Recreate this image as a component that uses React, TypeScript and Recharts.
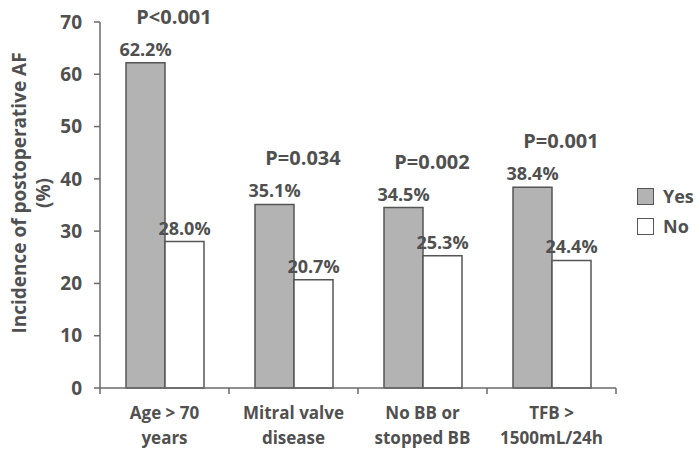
import React from 'react';
import { BarChart, Bar, XAxis, YAxis, LabelList } from 'recharts';

const categories = ['Age > 70|years', 'Mitral valve|disease', 'No BB or|stopped BB', 'TFB >|1500mL/24h'];
const yesValues = [62.2, 35.1, 34.5, 38.4];
const noValues = [28.0, 20.7, 25.3, 24.4];
const pLabels = ['P<0.001', 'P=0.034', 'P=0.002', 'P=0.001'];
const yTicks = [0, 10, 20, 30, 40, 50, 60, 70];
const legendItems = [
  { name: 'Yes', fill: '#b3b3b3' },
  { name: 'No', fill: '#ffffff' },
];

const data = categories.map((c, i) => ({ cat: c, yes: yesValues[i], no: noValues[i], p: pLabels[i] }));

const FONT = '"Open Sans", Lato, sans-serif';
const TXT = '#505050';
const AXIS = '#6a6a6a';

const W = 699;
const H = 459;
const M = { top: 22, right: 83, bottom: 41, left: 40 };
const Y_W = 60;
const bandW = (W - M.left - Y_W - M.right) / categories.length;

const XTick = (props: any) => {
  const { x, y, payload, index } = props;
  const half = payload && typeof payload.offset === 'number' && payload.offset > 0 ? payload.offset : bandW / 2;
  const lines = String(payload.value).split('|');
  const isLast = index === categories.length - 1;
  return (
    <g>
      <line x1={x - half} x2={x - half} y1={y - 8} y2={y - 2} stroke={AXIS} strokeWidth={1.5} />
      {isLast && <line x1={x + half} x2={x + half} y1={y - 8} y2={y - 2} stroke={AXIS} strokeWidth={1.5} />}
      <text x={x} y={y + 23} textAnchor="middle" fontFamily={FONT} fontWeight="bold" fontSize={17} fill={TXT}>
        {lines.map((l, i) => (
          <tspan key={i} x={x} dy={i === 0 ? 0 : 25}>{l}</tspan>
        ))}
      </text>
    </g>
  );
};

const PLabel = (props: any) => {
  const { x, y, width, value } = props;
  return (
    <text x={x + width + 9} y={y - 39} textAnchor="middle" fontFamily={FONT} fontWeight="bold" fontSize={20} fill={TXT}>
      {value}
    </text>
  );
};

const YLabel = (props: any) => {
  const vb = props.viewBox || {};
  const cy = vb.y + vb.height / 2;
  return (
    <text transform={`rotate(-90, 0, ${cy})`} x={12} y={cy} textAnchor="middle" fontFamily={FONT} fontWeight="bold" fontSize={19} fill={TXT}>
      <tspan x={12} y={cy + 26}>Incidence of postoperative AF</tspan>
      <tspan x={12} y={cy + 50}>(%)</tspan>
    </text>
  );
};

const valueStyle = { fontFamily: FONT, fontWeight: 'bold', fontSize: 18, fill: TXT };

export default function App() {
  return (
    <div style={{ position: 'absolute', left: 0, top: 0, width: W, height: H, background: '#fff' }}>
      <BarChart width={W} height={H} data={data} margin={M} barGap={0} barSize={39}>
        <XAxis dataKey="cat" tick={<XTick />} tickLine={false} axisLine={{ stroke: AXIS, strokeWidth: 1.5 }} interval={0} />
        <YAxis
          width={Y_W}
          domain={[0, 70]}
          ticks={yTicks}
          interval={0}
          tickSize={6}
          tickMargin={12}
          tickLine={{ stroke: AXIS, strokeWidth: 1.5 }}
          axisLine={{ stroke: AXIS, strokeWidth: 1.5 }}
          tick={{ fontFamily: FONT, fontWeight: 'bold', fontSize: 19, fill: TXT }}
          label={<YLabel />}
        />
        <Bar dataKey="yes" name="Yes" fill="#b3b3b3" stroke="#555" strokeWidth={1.5} isAnimationActive={false}>
          <LabelList dataKey="yes" position="top" offset={7} formatter={(v: any) => `${Number(v).toFixed(1)}%`} style={valueStyle} />
          <LabelList dataKey="p" content={<PLabel />} />
        </Bar>
        <Bar dataKey="no" name="No" fill="#ffffff" stroke="#555" strokeWidth={1.5} isAnimationActive={false}>
          <LabelList dataKey="no" position="top" offset={7} formatter={(v: any) => `${Number(v).toFixed(1)}%`} style={valueStyle} />
        </Bar>
      </BarChart>
      <div style={{ position: 'absolute', left: 637, top: 181, fontFamily: FONT, fontWeight: 'bold', fontSize: 18, color: TXT }}>
        {legendItems.map((it) => (
          <div key={it.name} style={{ display: 'flex', alignItems: 'center', height: 30 }}>
            <span style={{ display: 'inline-block', width: 15, height: 15, background: it.fill, border: '1.5px solid #555', marginRight: 9 }} />
            <span>{it.name}</span>
          </div>
        ))}
      </div>
    </div>
  );
}
